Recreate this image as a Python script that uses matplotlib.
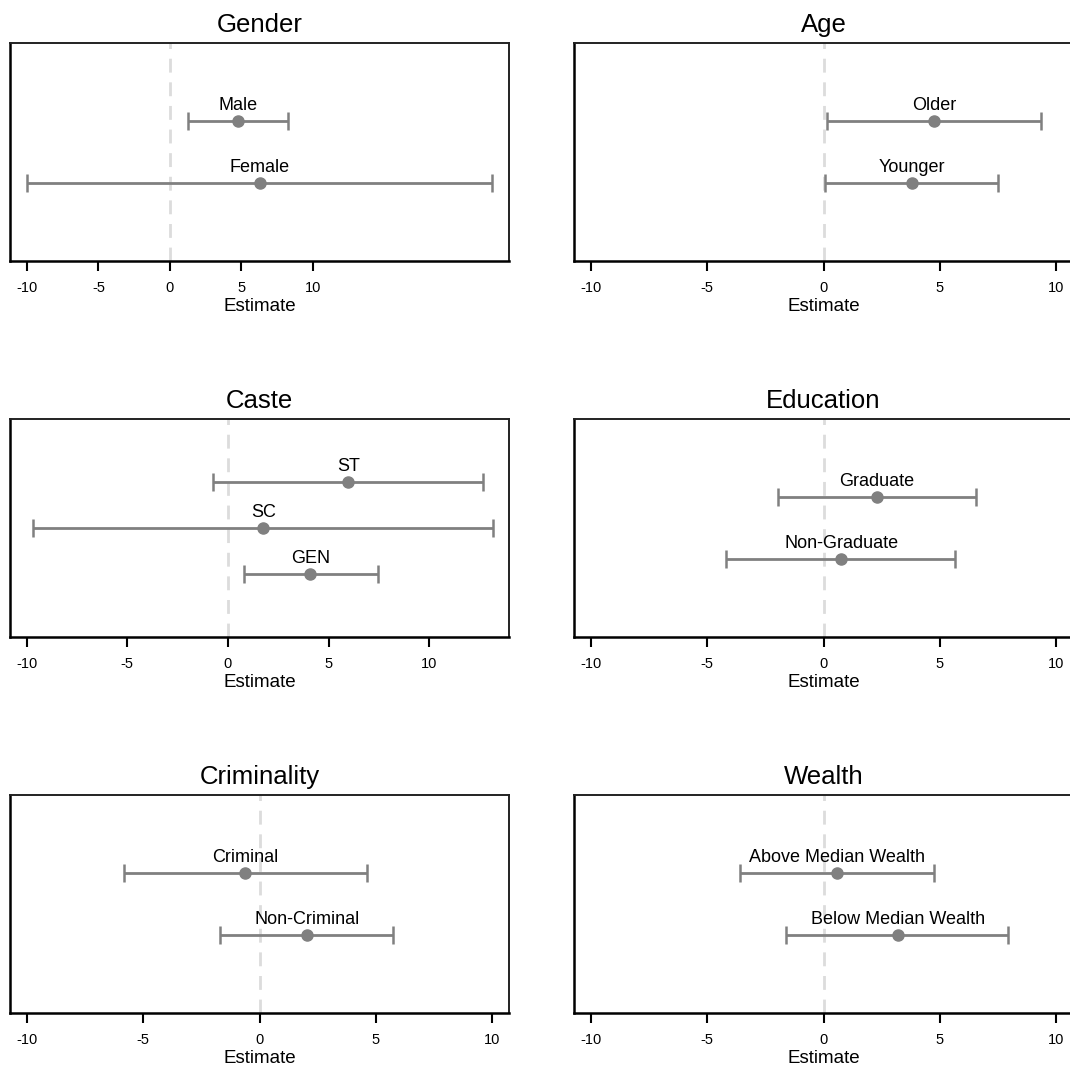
import matplotlib
matplotlib.use('Agg')
import matplotlib.pyplot as plt
import warnings

warnings.filterwarnings('ignore')

plt.rcParams['font.family'] = ['Liberation Sans', 'DejaVu Sans']

# ---------------------------------------------------------------------------
# Données (estimations et intervalles de confiance)
# ---------------------------------------------------------------------------
gender_labels = ['Male', 'Female']
gender_est = [4.8, 6.3]
gender_lo = [1.3, -10.0]
gender_hi = [8.3, 22.6]

age_labels = ['Older', 'Younger']
age_est = [4.76, 3.8]
age_lo = [0.16, 0.07]
age_hi = [9.37, 7.52]

caste_labels = ['ST', 'SC', 'GEN']
caste_est = [5.98, 1.75, 4.09]
caste_lo = [-0.73, -9.67, 0.78]
caste_hi = [12.67, 13.16, 7.44]

edu_labels = ['Graduate', 'Non-Graduate']
edu_est = [2.30, 0.76]
edu_lo = [-1.97, -4.18]
edu_hi = [6.55, 5.67]

crim_labels = ['Criminal', 'Non-Criminal']
crim_est = [-0.61, 2.03]
crim_lo = [-5.84, -1.69]
crim_hi = [4.62, 5.75]

wealth_labels = ['Above Median Wealth', 'Below Median Wealth']
wealth_est = [0.59, 3.19]
wealth_lo = [-3.58, -1.60]
wealth_hi = [4.75, 7.95]

xticks = [-10, -5, 0, 5, 10]

panels = [
    ('Gender', gender_labels, gender_est, gender_lo, gender_hi, (-11.2, 23.76)),
    ('Age', age_labels, age_est, age_lo, age_hi, (-10.73, 10.73)),
    ('Caste', caste_labels, caste_est, caste_lo, caste_hi, (-10.83, 13.96)),
    ('Education', edu_labels, edu_est, edu_lo, edu_hi, (-10.73, 10.73)),
    ('Criminality', crim_labels, crim_est, crim_lo, crim_hi, (-10.73, 10.73)),
    ('Wealth', wealth_labels, wealth_est, wealth_lo, wealth_hi, (-10.73, 10.73)),
]

# ---------------------------------------------------------------------------
# Mise en page (pixels de la figure 1070 x 1071)
# ---------------------------------------------------------------------------
W, H = 1070, 1071
col_x = [10, 574]
col_w = 499
row_top = [43, 419, 795]
row_h = 218
YPAD = {2: 1.25, 3: 1.36}
GREY = '#808080'

fig = plt.figure(figsize=(W / 100, H / 100), dpi=100)

for k, (title, labels, est, lo, hi, xlim) in enumerate(panels):
    r, c = divmod(k, 2)
    ax = fig.add_axes([col_x[c] / W, 1 - (row_top[r] + row_h) / H,
                       col_w / W, row_h / H])
    n = len(labels)
    ypos = [n - 1 - i for i in range(n)]

    ax.axvline(0, color='#dcdcdc', lw=2, ls=(0, (5, 3.5)), zorder=1)

    err = [[e - l for e, l in zip(est, lo)], [h - e for e, h in zip(est, hi)]]
    ax.errorbar(est, ypos, xerr=err, fmt='o', color=GREY, ms=8,
                elinewidth=2, capsize=6.5, capthick=1.8, zorder=3)
    for lab, e, y in zip(labels, est, ypos):
        ax.annotate(lab, (e, y), xytext=(0, 5), textcoords='offset points',
                    ha='center', va='bottom', fontsize=13, color='black')

    ax.set_xlim(*xlim)
    ax.set_ylim(-YPAD[n], n - 1 + YPAD[n])
    ax.set_xticks(xticks)
    ax.set_xticklabels([str(t) for t in xticks])
    ax.set_yticks([])
    ax.tick_params(axis='x', direction='out', length=7, width=1.5,
                   labelsize=10.5, pad=7.5, color='black')
    ax.set_xlabel('Estimate', fontsize=13.5, labelpad=2)
    ax.set_title(title, fontsize=18.5, pad=8)

    for side in ['bottom', 'left']:
        ax.spines[side].set_linewidth(1.8)
        ax.spines[side].set_color('black')
    for side in ['top', 'right']:
        ax.spines[side].set_linewidth(1.4)
        ax.spines[side].set_color('#222222')

fig.savefig('out.png', dpi=100)
